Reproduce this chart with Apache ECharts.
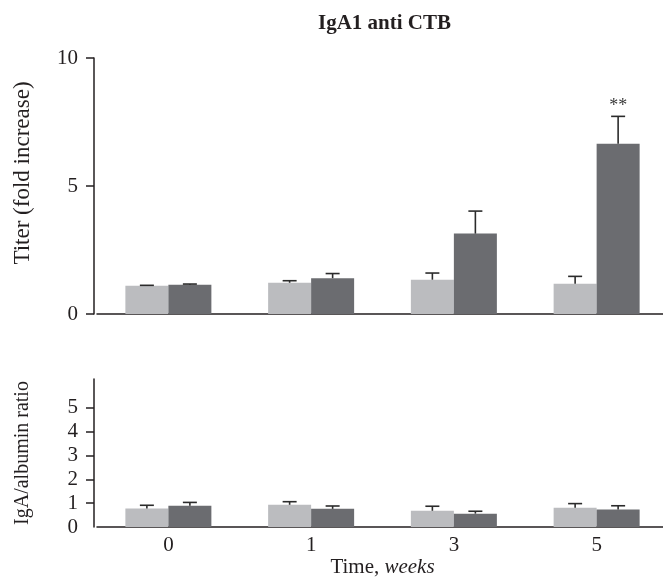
<!DOCTYPE html>
<html>
<head>
<meta charset="utf-8">
<script src="https://cdn.jsdelivr.net/npm/echarts@6/dist/echarts.min.js"></script>
<style>
html,body{margin:0;padding:0;background:#fff;}
#chart{width:663px;height:583px;}
</style>
</head>
<body>
<div id="chart"></div>
<script>
const categories = ['0', '1', '3', '5'];
const titerLight = [1.10, 1.22, 1.34, 1.18];
const titerLightErr = [0.02, 0.08, 0.26, 0.29];
const titerDark = [1.14, 1.40, 3.14, 6.65];
const titerDarkErr = [0.03, 0.18, 0.88, 1.07];
const titerMarks = ['', '', '', '**'];
const ratioLight = [0.78, 0.93, 0.68, 0.81];
const ratioLightErr = [0.13, 0.13, 0.19, 0.17];
const ratioDark = [0.89, 0.76, 0.56, 0.73];
const ratioDarkErr = [0.14, 0.12, 0.10, 0.16];
const titerTicks = [0, 5, 10];
const ratioTicks = [0, 1, 2, 3, 4, 5];

const FONT = '"Liberation Serif", "DejaVu Serif", serif';
const AXIS = '#231f20';
const LIGHT = '#bbbcbf';
const DARK = '#6b6c70';
const BARW = 43;

function errSeries(xi, yi, values, errs, side, marks) {
  return {
    type: 'custom',
    xAxisIndex: xi, yAxisIndex: yi,
    z: 5,
    data: values.map((v, i) => [i, v, errs[i]]),
    renderItem: function (params, api) {
      const ci = api.value(0), v = api.value(1), e = api.value(2);
      const b = api.coord([ci, v]);
      const t = api.coord([ci, v + e]);
      const x = b[0] + side * BARW / 2;
      const children = [
        { type: 'line', shape: { x1: x, y1: b[1], x2: x, y2: t[1] }, style: { stroke: '#2b2b2b', lineWidth: 1.6 } },
        { type: 'line', shape: { x1: x - 7, y1: t[1], x2: x + 7, y2: t[1] }, style: { stroke: '#2b2b2b', lineWidth: 1.6 } }
      ];
      const m = marks ? marks[params.dataIndex] : '';
      if (m) {
        children.push({ type: 'text', style: { text: m, x: x, y: t[1] - 1, align: 'center', verticalAlign: 'bottom', font: '18px ' + FONT, fill: '#3a3a3a' } });
      }
      return { type: 'group', children: children };
    }
  };
}

const chart = echarts.init(document.getElementById('chart'), null, { renderer: 'canvas' });
const axisLine = { show: true, lineStyle: { color: AXIS, width: 1.5 } };
const labelStyle = { fontFamily: FONT, fontSize: 21, color: AXIS };

chart.setOption({
  animation: false,
  backgroundColor: '#fff',
  title: {
    text: 'IgA1 anti CTB', left: 313, top: 8,
    textStyle: { fontFamily: FONT, fontWeight: 'bold', fontSize: 21, color: AXIS }
  },
  grid: [
    { left: 97, width: 571, top: 58, height: 256, outerBoundsMode: 'none', containLabel: false },
    { left: 97, width: 571, top: 379, height: 148, outerBoundsMode: 'none', containLabel: false }
  ],
  xAxis: [
    { gridIndex: 0, type: 'category', data: categories, axisLine: axisLine, axisTick: { show: false }, axisLabel: { show: false } },
    {
      gridIndex: 1, type: 'category', data: categories, axisLine: axisLine, axisTick: { show: false },
      axisLabel: Object.assign({ margin: 8 }, labelStyle),
      name: '{a|Time, }{b|weeks}', nameLocation: 'middle', nameGap: 30,
      nameTextStyle: {
        fontFamily: FONT, fontSize: 21, color: AXIS,
        rich: { a: { fontFamily: FONT, fontSize: 21, color: AXIS }, b: { fontFamily: FONT, fontSize: 21, fontStyle: 'italic', color: AXIS } }
      }
    }
  ],
  yAxis: [
    {
      gridIndex: 0, type: 'value', min: 0, max: 10, interval: 5, offset: 3,
      axisLine: axisLine, splitLine: { show: false },
      axisTick: { show: true, length: 8, lineStyle: { color: AXIS, width: 1.5 }, customValues: titerTicks },
      axisLabel: Object.assign({ margin: 16, customValues: titerTicks }, labelStyle)
    },
    {
      gridIndex: 1, type: 'value', min: 0, max: 6.2, interval: 1, offset: 3,
      axisLine: axisLine, splitLine: { show: false },
      axisTick: { show: true, length: 8, lineStyle: { color: AXIS, width: 1.5 }, customValues: ratioTicks.slice(1) },
      axisLabel: Object.assign({ margin: 16, customValues: ratioTicks }, labelStyle)
    }
  ],
  graphic: [
    { type: 'text', x: 23, y: 173, rotation: Math.PI / 2, style: { text: 'Titer (fold increase)', font: '23px ' + FONT, fill: AXIS, align: 'center', verticalAlign: 'middle' } },
    { type: 'text', x: 23, y: 453, rotation: Math.PI / 2, style: { text: 'IgA/albumin ratio', font: '20px ' + FONT, fill: AXIS, align: 'center', verticalAlign: 'middle' } }
  ],
  series: [
    { type: 'bar', xAxisIndex: 0, yAxisIndex: 0, data: titerLight, barWidth: BARW, barGap: '0%', itemStyle: { color: LIGHT } },
    { type: 'bar', xAxisIndex: 0, yAxisIndex: 0, data: titerDark, barWidth: BARW, barGap: '0%', itemStyle: { color: DARK } },
    errSeries(0, 0, titerLight, titerLightErr, -1, null),
    errSeries(0, 0, titerDark, titerDarkErr, 1, titerMarks),
    { type: 'bar', xAxisIndex: 1, yAxisIndex: 1, data: ratioLight, barWidth: BARW, barGap: '0%', itemStyle: { color: LIGHT } },
    { type: 'bar', xAxisIndex: 1, yAxisIndex: 1, data: ratioDark, barWidth: BARW, barGap: '0%', itemStyle: { color: DARK } },
    errSeries(1, 1, ratioLight, ratioLightErr, -1, null),
    errSeries(1, 1, ratioDark, ratioDarkErr, 1, null)
  ]
});
</script>
</body>
</html>
